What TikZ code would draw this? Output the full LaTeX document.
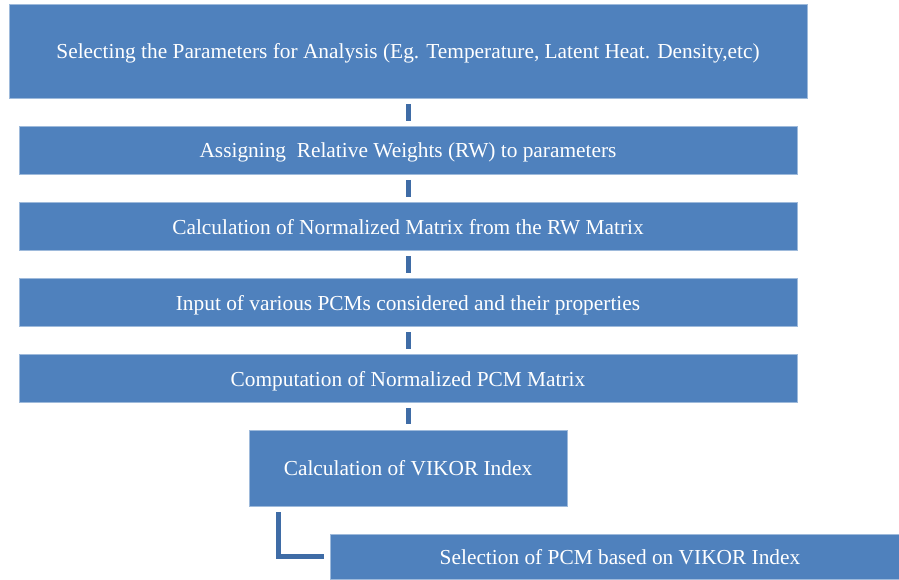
\documentclass[tikz,border=0pt]{standalone}
\usepackage{fontspec}
\setmainfont{Liberation Serif}
\definecolor{boxblue}{HTML}{4F81BD}
\definecolor{connblue}{HTML}{3F6CA6}
\begin{document}
\begin{tikzpicture}[x=1pt,y=-1pt,
  stepbox/.style={rectangle, fill=boxblue, draw=boxblue!55!white, line width=0.8pt,
    text=white, font=\fontsize{21.35}{24}\selectfont, inner sep=0pt, align=center,
    text height=15.4pt, text depth=0pt},
  conn/.style={draw=connblue, line width=5pt, shorten >=5.5pt, shorten <=5.5pt}]
\useasboundingbox (0,0) rectangle (899,579);
\node[stepbox, minimum width=798pt, minimum height=94pt] (b1) at (408,51)
  {Selecting the Parameters for Analysis (Eg. Temperature, Latent Heat. Density,etc)};
\node[stepbox, minimum width=778pt, minimum height=47.5pt] (b2) at (408,150.2)
  {Assigning\ \ Relative Weights (RW) to parameters};
\node[stepbox, minimum width=778pt, minimum height=47.5pt] (b3) at (408,226.5)
  {Calculation of Normalized Matrix from the RW Matrix};
\node[stepbox, minimum width=778pt, minimum height=47.5pt] (b4) at (408,302.5)
  {Input of various PCMs considered and their properties};
\node[stepbox, minimum width=778pt, minimum height=47.5pt] (b5) at (408,378.5)
  {Computation of Normalized PCM Matrix};
\node[stepbox, minimum width=318pt, minimum height=76pt] (b6) at (408,468.2)
  {Calculation of VIKOR Index};
\node[stepbox, minimum width=580pt, minimum height=45.5pt] (b7) at (620,557)
  {Selection of PCM based on VIKOR Index};
\draw[conn] (b1.south) -- (b2.north);
\draw[conn] (b2.south) -- (b3.north);
\draw[conn] (b3.south) -- (b4.north);
\draw[conn] (b4.south) -- (b5.north);
\draw[conn] (b5.south) -- (b6.north);
\draw[conn, line join=miter] ([xshift=30pt]b6.south west) |- ([yshift=1pt]b7.west);
\end{tikzpicture}
\end{document}
